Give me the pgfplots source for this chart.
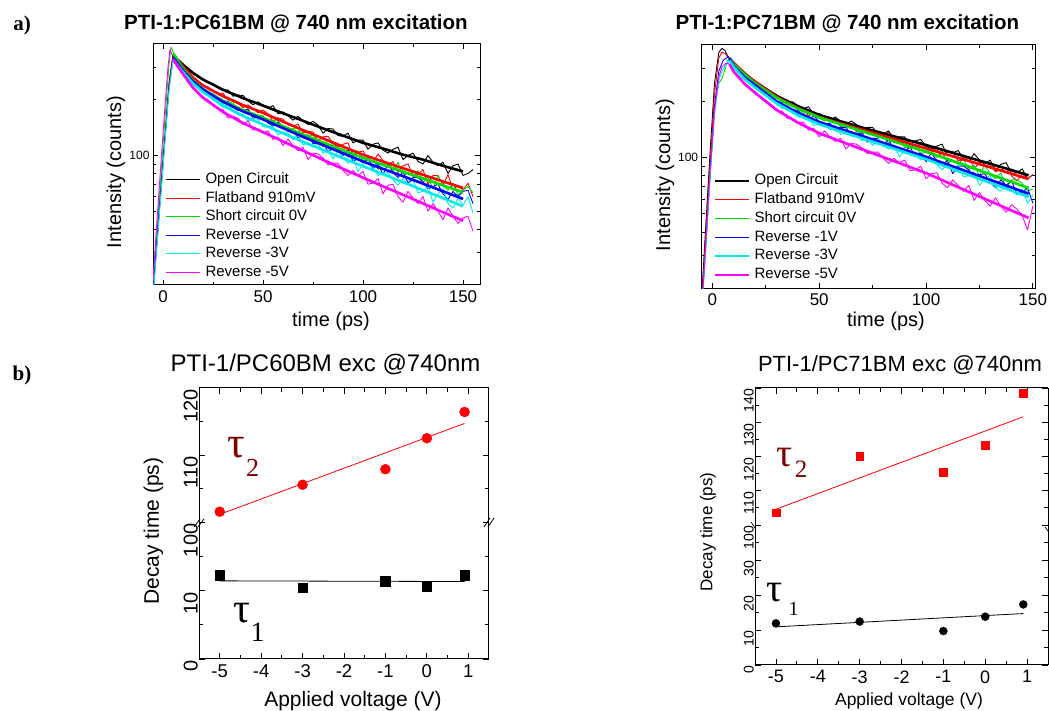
\documentclass[border=0pt]{standalone}
\usepackage{fontspec}
\setmainfont{Liberation Sans}
\newfontfamily\serif{Liberation Serif}
\usepackage{pgfplots}
\pgfplotsset{compat=1.18}
\definecolor{cgreen}{RGB}{0,220,0}
\definecolor{cblue}{RGB}{0,0,255}
\definecolor{ccyan}{RGB}{0,235,235}
\definecolor{cmag}{RGB}{255,0,255}
\definecolor{tauRed}{RGB}{128,0,0}
\tikzset{rawl/.style={line width=0.9pt, line join=round},
         fitl/.style={line width=2.6pt}}
\newcommand{\legtxt}[1]{\hspace{5pt}\fontsize{15}{18}\selectfont #1}
\pgfplotsset{every axis/.append style={scale only axis, anchor=south west,
    axis line style={line width=1pt}, tick style={black, line width=0.8pt}, tick align=inside}}
\begin{document}
\begin{tikzpicture}
\useasboundingbox (0,0) rectangle (1049pt,711pt);

% ---------------- A1 ----------------
\begin{axis}[at={(153pt,426pt)}, width=327pt, height=241pt, xmin=-5, xmax=158.5,
  ymode=log, ymin=20, ymax=400, major tick length=5pt, minor tick length=3pt,
  xtick={0,50,100,150}, xticklabels={0,50,100,150}, minor xtick={25,75,125},
  ytick={100}, yticklabels={100}, minor ytick={30,40,50,60,70,80,90,200,300},
  xticklabel style={font=\fontsize{17}{17}\selectfont, yshift=-2pt},
  yticklabel style={font=\fontsize{12}{12}\selectfont},
  legend style={at={(0.037,0.467)}, anchor=north west, draw=none, fill=none,
    row sep=4pt, inner sep=0pt,
    nodes={inner sep=0pt, text height=11pt, text depth=3.5pt}},
  legend cell align=left,
  legend image code/.code={\draw[#1, line width=1.2pt] (0pt,0pt) -- (34pt,0pt);}]
\addplot[rawl, black] coordinates {(-5,19) (-3,36) (-1,68) (1,128) (3,245) (5,348) (7.5,326) (10,310) (12.5,296) (15,278) (17.5,265) (20,259) (22.5,249) (25,245) (27.5,232) (30,225) (32.5,226) (35,209) (37.5,212) (40,211) (42.5,197) (45,188) (47.5,195) (50,187) (52.5,180) (55,186) (57.5,168) (60,172) (62.5,164) (65,155) (67.5,163) (70,154) (72.5,147) (75,153) (77.5,146) (80,132) (82.5,140) (85,139) (87.5,128) (90,127) (92.5,132) (95,117) (97.5,121) (100,121) (102.5,108) (105,115) (107.5,117) (110,107) (112.5,103) (115,108) (117.5,111) (120,95) (122.5,100) (125,103) (127.5,93) (130,90) (132.5,100) (135,92) (137.5,88) (140,92) (142.5,80) (145,88) (147.5,90) (150,78) (152.5,80) (155,84)};
\addlegendentry{\legtxt{Open Circuit}}
\addplot[rawl, red] coordinates {(-5,18) (-3,34) (-1,66) (1,125) (3,240) (5,352) (7.5,328) (10,299) (12.5,283) (15,266) (17.5,250) (20,236) (22.5,234) (25,224) (27.5,216) (30,217) (32.5,199) (35,201) (37.5,192) (40,181) (42.5,188) (45,179) (47.5,170) (50,176) (52.5,168) (55,153) (57.5,160) (60,157) (62.5,146) (65,144) (67.5,148) (70,132) (72.5,135) (75,134) (77.5,120) (80,126) (82.5,127) (85,116) (87.5,111) (90,115) (92.5,117) (95,100) (97.5,104) (100,106) (102.5,96) (105,92) (107.5,102) (110,94) (112.5,89) (115,93) (117.5,81) (120,88) (122.5,90) (125,78) (127.5,79) (130,84) (132.5,70) (135,78) (137.5,78) (140,69) (142.5,79) (145,65) (147.5,69) (150,65) (152.5,71) (155,60)};
\addlegendentry{\legtxt{Flatband 910mV}}
\addplot[rawl, cgreen] coordinates {(-5,20) (-3,40) (-1,80) (1,160) (3,310) (4,385) (5,365) (7.5,327) (10,296) (12.5,274) (15,251) (17.5,244) (20,229) (22.5,219) (25,216) (27.5,206) (30,189) (32.5,195) (35,192) (37.5,178) (40,175) (42.5,179) (45,163) (47.5,165) (50,164) (52.5,149) (55,154) (57.5,154) (60,142) (62.5,136) (65,140) (67.5,141) (70,124) (72.5,127) (75,129) (77.5,118) (80,112) (82.5,122) (85,113) (87.5,107) (90,111) (92.5,98) (95,105) (97.5,106) (100,93) (102.5,94) (105,98) (107.5,84) (110,91) (112.5,91) (115,82) (117.5,92) (120,77) (122.5,81) (125,77) (127.5,83) (130,71) (132.5,77) (135,66) (137.5,78) (140,69) (142.5,65) (145,71) (147.5,61) (150,65) (152.5,68) (155,63)};
\addlegendentry{\legtxt{Short circuit 0V}}
\addplot[rawl, cblue] coordinates {(-5,18) (-3,35) (-1,66) (1,124) (3,232) (5,336) (7.5,315) (10,290) (12.5,268) (15,251) (17.5,242) (20,225) (22.5,219) (25,213) (27.5,200) (30,197) (32.5,196) (35,182) (37.5,175) (40,176) (42.5,177) (45,159) (47.5,161) (50,162) (52.5,150) (55,144) (57.5,152) (60,142) (62.5,135) (65,137) (67.5,124) (70,129) (72.5,129) (75,116) (77.5,116) (80,119) (82.5,104) (85,110) (87.5,110) (90,100) (92.5,108) (95,93) (97.5,96) (100,91) (102.5,97) (105,85) (107.5,90) (110,79) (112.5,90) (115,81) (117.5,76) (120,82) (122.5,71) (125,76) (127.5,76) (130,72) (132.5,66) (135,68) (137.5,70) (140,62) (142.5,58) (145,64) (147.5,60) (150,64) (152.5,65) (155,55)};
\addlegendentry{\legtxt{Reverse -1V}}
\addplot[rawl, ccyan] coordinates {(-5,17) (-3,33) (-1,63) (1,120) (3,225) (5,326) (7.5,310) (10,281) (12.5,262) (15,247) (17.5,237) (20,217) (22.5,212) (25,206) (27.5,193) (30,181) (32.5,188) (35,176) (37.5,167) (40,167) (42.5,153) (45,158) (47.5,157) (50,143) (52.5,142) (55,144) (57.5,129) (60,134) (62.5,132) (65,122) (67.5,130) (70,114) (72.5,117) (75,111) (77.5,116) (80,103) (82.5,108) (85,96) (87.5,106) (90,97) (92.5,91) (95,97) (97.5,82) (100,90) (102.5,90) (105,85) (107.5,78) (110,80) (112.5,81) (115,74) (117.5,69) (120,75) (122.5,70) (125,74) (127.5,63) (130,64) (132.5,68) (135,56) (137.5,62) (140,66) (142.5,55) (145,52) (147.5,59) (150,54) (152.5,60) (155,49)};
\addlegendentry{\legtxt{Reverse -3V}}
\addplot[rawl, cmag] coordinates {(-5,21) (-3,45) (-1,92) (1,185) (2.5,300) (3.5,375) (5,340) (7.5,306) (10,275) (12.5,252) (15,234) (17.5,215) (20,207) (22.5,200) (25,186) (27.5,179) (30,177) (32.5,159) (35,163) (37.5,159) (40,147) (42.5,154) (45,137) (47.5,139) (50,132) (52.5,136) (55,122) (57.5,126) (60,113) (62.5,123) (65,113) (67.5,106) (70,111) (72.5,95) (75,103) (77.5,102) (80,97) (82.5,89) (85,91) (87.5,91) (90,83) (92.5,78) (95,83) (97.5,78) (100,82) (102.5,70) (105,71) (107.5,75) (110,62) (112.5,69) (115,70) (117.5,60) (120,56) (122.5,64) (125,59) (127.5,55) (130,60) (132.5,50) (135,55) (137.5,50) (140,45) (142.5,52) (145,47) (147.5,43) (150,46) (152.5,47) (155,39)};
\addlegendentry{\legtxt{Reverse -5V}}
\addplot[fitl, black, forget plot] coordinates {(5,347) (10,309) (15,279) (20,257) (30,226.5) (40,204) (50,186) (60,169) (70,154) (80,140) (90,128) (100,117) (110,109) (120,101) (130,95) (140,88) (150,82)};
\addplot[fitl, red, forget plot] coordinates {(5,350) (10,302) (15,263) (20,239) (30,209) (40,187) (50,170) (60,152.4) (70,137) (80,123.6) (90,111.7) (100,101) (110,92.7) (120,85.3) (130,78.7) (140,72.4) (150,66.8)};
\addplot[fitl, cgreen, forget plot] coordinates {(5,355) (10,295) (15,254) (20,229) (30,197.2) (40,175.8) (50,160) (60,143.9) (70,129.7) (80,117.5) (90,106.7) (100,97.1) (110,89.1) (120,81.8) (130,75.2) (140,69) (150,63.4)};
\addplot[fitl, cblue, forget plot] coordinates {(5,339) (10,288) (15,251) (20,227) (30,195) (40,173) (50,156.7) (60,140.6) (70,126.2) (80,113.8) (90,102.8) (100,92.9) (110,84.7) (120,77.3) (130,70.5) (140,64.1) (150,58.3)};
\addplot[fitl, ccyan, forget plot] coordinates {(5,331) (10,282) (15,245) (20,220) (30,186.2) (40,163.3) (50,146.9) (60,131.8) (70,118.6) (80,107.2) (90,96.8) (100,87.5) (110,79.3) (120,71.8) (130,65) (140,58.9) (150,53.2)};
\addplot[fitl, cmag, forget plot] coordinates {(5,331) (10,275) (15,232) (20,205) (30,171.8) (40,149.6) (50,133.7) (60,119.1) (70,106.2) (80,94.8) (90,84.7) (100,75.9) (110,68.2) (120,61.4) (130,55.1) (140,49.4) (150,44.5)};
\end{axis}

% ---------------- A2 ----------------
\begin{axis}[at={(701.7pt,422.7pt)}, width=333.3pt, height=243.3pt, xmin=-5, xmax=151,
  ymode=log, ymin=20, ymax=400, major tick length=5pt, minor tick length=3pt,
  xtick={0,50,100,150}, xticklabels={0,50,100,150}, minor xtick={25,75,125},
  ytick={100}, yticklabels={100}, minor ytick={30,40,50,60,70,80,90,200,300},
  xticklabel style={font=\fontsize{17}{17}\selectfont, yshift=-2pt},
  yticklabel style={font=\fontsize{12}{12}\selectfont},
  legend style={at={(0.037,0.472)}, anchor=north west, draw=none, fill=none,
    row sep=4.3pt, inner sep=0pt,
    nodes={inner sep=0pt, text height=11pt, text depth=3.5pt}},
  legend cell align=left,
  legend image code/.code={\draw[#1, line width=1.4pt] (0pt,0pt) -- (34pt,0pt);}]
\addplot[rawl, black] coordinates {(-5,18) (-3,45) (-1,110) (1,250) (3,365) (4.5,384) (6,372) (7.5,341) (10,321) (12.5,301) (15,285) (17.5,266) (20,254) (22.5,246) (25,231) (27.5,225) (30,217) (32.5,204) (35,198) (37.5,199) (40,189) (42.5,182) (45,187) (47.5,169) (50,172) (52.5,165) (55,157) (57.5,165) (60,156) (62.5,150) (65,157) (67.5,150) (70,137) (72.5,145) (75,145) (77.5,134) (80,134) (82.5,139) (85,125) (87.5,129) (90,129) (92.5,116) (95,123) (97.5,125) (100,115) (102.5,111) (105,115) (107.5,118) (110,102) (112.5,106) (115,109) (117.5,99) (120,95) (122.5,105) (125,97) (127.5,92) (130,97) (132.5,85) (135,92) (137.5,94) (140,82) (142.5,83) (145,87) (147.5,77) (150,81)};
\addlegendentry{\legtxt{Open Circuit}}
\addplot[rawl, red] coordinates {(-5,17) (-3,40) (-1,95) (1,220) (3,340) (4.5,366) (6,360) (7.5,341) (10,317) (12.5,303) (15,282) (17.5,267) (20,258) (22.5,241) (25,234) (27.5,222) (30,208) (32.5,210) (35,198) (37.5,187) (40,190) (42.5,181) (45,167) (47.5,173) (50,170) (52.5,159) (55,158) (57.5,162) (60,147) (62.5,151) (65,151) (67.5,137) (70,143) (72.5,144) (75,134) (77.5,129) (80,134) (82.5,136) (85,120) (87.5,123) (90,126) (92.5,116) (95,111) (97.5,121) (100,113) (102.5,108) (105,112) (107.5,100) (110,107) (112.5,108) (115,96) (117.5,97) (120,101) (122.5,87) (125,94) (127.5,95) (130,91) (132.5,84) (135,86) (137.5,88) (140,80) (142.5,75) (145,82) (147.5,77) (150,81)};
\addlegendentry{\legtxt{Flatband 910mV}}
\addplot[rawl, cgreen] coordinates {(-5,16) (-3,35) (-1,85) (1,180) (3,250) (4.5,265) (6,300) (7.5,338) (10,316) (12.5,295) (15,282) (17.5,265) (20,246) (22.5,241) (25,232) (27.5,218) (30,208) (32.5,209) (35,191) (37.5,190) (40,187) (42.5,171) (45,180) (47.5,175) (50,162) (52.5,157) (55,160) (57.5,162) (60,145) (62.5,148) (65,150) (67.5,139) (70,133) (72.5,143) (75,134) (77.5,128) (80,131) (82.5,119) (85,125) (87.5,126) (90,113) (92.5,114) (95,117) (97.5,103) (100,110) (102.5,109) (105,100) (107.5,109) (110,93) (112.5,97) (115,92) (117.5,98) (120,86) (122.5,91) (125,80) (127.5,91) (130,82) (132.5,77) (135,83) (137.5,68) (140,76) (142.5,76) (145,73) (147.5,66) (150,68)};
\addlegendentry{\legtxt{Short circuit 0V}}
\addplot[rawl, cblue] coordinates {(-5,16) (-3,36) (-1,85) (1,190) (3,290) (5,330) (7.5,348) (10,307) (12.5,289) (15,271) (17.5,253) (20,245) (22.5,236) (25,221) (27.5,209) (30,201) (32.5,197) (35,181) (37.5,180) (40,179) (42.5,166) (45,159) (47.5,167) (50,156) (52.5,150) (55,153) (57.5,139) (60,145) (62.5,145) (65,132) (67.5,133) (70,136) (72.5,121) (75,127) (77.5,126) (80,117) (82.5,125) (85,110) (87.5,113) (90,108) (92.5,114) (95,101) (97.5,106) (100,95) (102.5,106) (105,96) (107.5,91) (110,97) (112.5,82) (115,90) (117.5,90) (120,86) (122.5,79) (125,81) (127.5,82) (130,74) (132.5,69) (135,76) (137.5,71) (140,75) (142.5,64) (145,65) (147.5,69) (150,57)};
\addlegendentry{\legtxt{Reverse -1V}}
\addplot[rawl, ccyan] coordinates {(-5,15) (-3,34) (-1,80) (1,170) (3,260) (4.5,290) (6,310) (7.5,330) (10,303) (12.5,284) (15,265) (17.5,248) (20,234) (22.5,230) (25,217) (27.5,205) (30,199) (32.5,183) (35,185) (37.5,182) (40,165) (42.5,163) (45,165) (47.5,148) (50,153) (52.5,152) (55,141) (57.5,149) (60,133) (62.5,136) (65,130) (67.5,136) (70,123) (72.5,127) (75,116) (77.5,126) (80,116) (82.5,111) (85,117) (87.5,101) (90,109) (92.5,108) (95,104) (97.5,97) (100,99) (102.5,100) (105,92) (107.5,86) (110,92) (112.5,87) (115,91) (117.5,79) (120,80) (122.5,84) (125,71) (127.5,77) (130,80) (132.5,69) (135,66) (137.5,72) (140,68) (142.5,63) (145,68) (147.5,57) (150,63)};
\addlegendentry{\legtxt{Reverse -3V}}
\addplot[rawl, cmag] coordinates {(-5,15) (-3,36) (-1,85) (1,180) (3,270) (4.5,305) (6,318) (7.5,319) (10,290) (12.5,271) (15,246) (17.5,234) (20,225) (22.5,208) (25,202) (27.5,192) (30,178) (32.5,178) (35,162) (37.5,161) (40,152) (42.5,155) (45,140) (47.5,143) (50,129) (52.5,139) (55,129) (57.5,122) (60,127) (62.5,111) (65,119) (67.5,118) (70,113) (72.5,105) (75,107) (77.5,107) (80,99) (82.5,93) (85,99) (87.5,94) (90,97) (92.5,85) (95,86) (97.5,90) (100,77) (102.5,82) (105,83) (107.5,73) (110,69) (112.5,76) (115,71) (117.5,66) (120,71) (122.5,59) (125,65) (127.5,59) (130,55) (132.5,61) (135,55) (137.5,51) (140,56) (142.5,53) (145,49) (147.5,41) (150,55)};
\addlegendentry{\legtxt{Reverse -5V}}
\addplot[fitl, black, forget plot] coordinates {(8,339) (10,320) (15,282) (20,254) (30,213.8) (40,188.4) (50,169) (60,156.3) (70,144.9) (80,134.6) (90,125.3) (100,116.7) (110,108.1) (120,100) (130,92.7) (140,85.7) (148,80.4)};
\addplot[fitl, red, forget plot] coordinates {(8,339) (10,320) (15,282) (20,254) (30,211.3) (40,184.1) (50,164.8) (60,152.4) (70,140.9) (80,130.6) (90,120.8) (100,111.9) (110,103.5) (120,95.9) (130,88.7) (140,82) (148,76.7)};
\addplot[fitl, cgreen, forget plot] coordinates {(8,339) (10,316) (15,278.6) (20,250) (30,208.9) (40,182.8) (50,164.1) (60,150.7) (70,138.4) (80,127.4) (90,117) (100,107.6) (110,98.2) (120,89.5) (130,81.5) (140,74.1) (148,68.7)};
\addplot[fitl, cblue, forget plot] coordinates {(8,339) (10,309) (15,269) (20,243.8) (30,199.5) (40,173.8) (50,154.9) (60,142.2) (70,130.6) (80,119.7) (90,109.9) (100,100.9) (110,91.8) (120,83.6) (130,76) (140,69.2) (148,64.1)};
\addplot[fitl, ccyan, forget plot] coordinates {(8,331) (10,305.5) (15,263) (20,237) (30,195) (40,169) (50,150.7) (60,138) (70,126.8) (80,116.4) (90,106.7) (100,98) (110,88.9) (120,80.7) (130,73.3) (140,66.5) (148,61.7)};
\addplot[fitl, cmag, forget plot] coordinates {(8,316) (10,288) (15,248) (20,222) (30,179.9) (40,153.8) (50,134.9) (60,122.2) (70,110.7) (80,100.5) (90,91.2) (100,82.6) (110,73.6) (120,65.6) (130,58.5) (140,52.1) (148,47.6)};
\end{axis}

% ---------------- B1 ----------------
\begin{axis}[at={(199pt,52pt)}, width=290pt, height=136.5pt, xmin=-5.5, xmax=1.5, ymin=0, ymax=20,
  axis x line*=bottom, axis y line*=box, clip=false, major tick length=6pt, minor tick length=4pt,
  xtick={-5,-4,-3,-2,-1,0,1}, xticklabels={-5,-4,-3,-2,-1,0,1}, minor x tick num=1,
  xticklabel style={font=\fontsize{18.5}{18.5}\selectfont, yshift=-2pt},
  ytick={0,10,20}, yticklabels={0,10,{}}, minor ytick={5,15},
  yticklabel style={rotate=90, anchor=south east, inner sep=1pt, font=\fontsize{20}{20}\selectfont}]
\addplot[black, line width=0.8pt] coordinates {(-5,11.45) (0.91,11.35)};
\addplot[black, only marks, mark=square*, mark size=4.75pt] coordinates {(-5,12.25) (-3,10.45) (-1,11.4) (0,10.6) (0.91,12.3)};
\end{axis}
\begin{axis}[at={(199pt,188.5pt)}, width=290pt, height=134.8pt, xmin=-5.5, xmax=1.5, ymin=100, ymax=120,
  axis x line*=top, axis y line*=box, clip=false, major tick length=6pt, minor tick length=4pt,
  xtick={-5,-4,-3,-2,-1,0,1}, xticklabels={}, minor x tick num=1,
  ytick={100,110,120}, yticklabels={100,110,120}, minor ytick={105,115},
  yticklabel style={rotate=90, anchor=south east, inner sep=1pt, font=\fontsize{20}{20}\selectfont}]
\addplot[red, line width=0.8pt] coordinates {(-5,101.2) (0.91,114.7)};
\addplot[red, only marks, mark=*, mark size=5pt] coordinates {(-5,101.6) (-3,105.6) (-1,107.9) (0,112.5) (0.91,116.4)};
\end{axis}

% ---------------- B2 ----------------
\begin{axis}[at={(755pt,46pt)}, width=293pt, height=140pt, xmin=-5.5, xmax=1.5, ymin=0, ymax=40,
  axis x line*=bottom, axis y line*=box, clip=false, major tick length=6pt, minor tick length=4pt,
  xtick={-5,-4,-3,-2,-1,0,1}, xticklabels={-5,-4,-3,-2,-1,0,1}, minor x tick num=1,
  xticklabel style={font=\fontsize{18}{18}\selectfont, yshift=-2pt},
  ytick={0,10,20,30,40}, yticklabels={0,10,20,30,{}}, minor ytick={5,15,25,35},
  yticklabel style={rotate=90, anchor=south east, inner sep=1pt, font=\fontsize{14}{14}\selectfont}]
\addplot[black, line width=0.8pt] coordinates {(-5,10.9) (0.91,14.7)};
\addplot[black, only marks, mark=*, mark size=4pt] coordinates {(-5,11.9) (-3,12.4) (-1,9.7) (0,13.8) (0.91,17.3)};
\end{axis}
\begin{axis}[at={(755pt,186pt)}, width=293pt, height=137pt, xmin=-5.5, xmax=1.5, ymin=100, ymax=140,
  axis x line*=top, axis y line*=box, clip=false, major tick length=6pt, minor tick length=4pt,
  xtick={-5,-4,-3,-2,-1,0,1}, xticklabels={}, minor x tick num=1,
  ytick={100,110,120,130,140}, yticklabels={100,110,120,130,140}, minor ytick={105,115,125,135},
  yticklabel style={rotate=90, anchor=south east, inner sep=1pt, font=\fontsize{14}{14}\selectfont}]
\addplot[red, line width=0.8pt] coordinates {(-5,104.6) (0.91,131.6)};
\addplot[red, only marks, mark=square*, mark size=3.85pt] coordinates {(-5,103.6) (-3,120.1) (-1,115.5) (0,123.2) (0.91,138.4)};
\end{axis}

% break marks
\draw[line width=0.8pt] (194pt,184pt) -- (200pt,192pt) (198pt,184pt) -- (204pt,192pt);
\draw[line width=0.8pt] (484pt,184pt) -- (490pt,193pt) (488pt,184pt) -- (494pt,193pt);
\draw[line width=0.7pt] (751pt,189pt) -- (755pt,183pt);
\draw[line width=0.7pt] (1045pt,184pt) -- (1048pt,180pt);

% texts
\node[font=\serif\bfseries\fontsize{21}{21}\selectfont] at (22pt,686pt) {a)};
\node[font=\serif\bfseries\fontsize{21}{21}\selectfont] at (22pt,336pt) {b)};
\node[font=\bfseries\fontsize{20.5}{20.5}\selectfont] at (296pt,687pt) {PTI-1:PC61BM @ 740 nm excitation};
\node[font=\bfseries\fontsize{20.5}{20.5}\selectfont] at (847.5pt,687pt) {PTI-1:PC71BM @ 740 nm excitation};
\node[rotate=90, font=\fontsize{20}{20}\selectfont] at (116pt,539pt) {Intensity (counts)};
\node[rotate=90, font=\fontsize{20}{20}\selectfont] at (665pt,536pt) {Intensity (counts)};
\node[font=\fontsize{20}{20}\selectfont] at (331pt,390pt) {time (ps)};
\node[font=\fontsize{20}{20}\selectfont] at (886pt,390pt) {time (ps)};
\node[font=\fontsize{24}{24}\selectfont] at (325.5pt,347pt) {PTI-1/PC60BM exc @740nm};
\node[font=\fontsize{22}{22}\selectfont] at (900pt,346pt) {PTI-1/PC71BM exc @740nm};
\node[rotate=90, font=\fontsize{21}{21}\selectfont] at (153.5pt,180pt) {Decay time (ps)};
\node[rotate=90, font=\fontsize{17}{17}\selectfont] at (708pt,179pt) {Decay time (ps)};
\node[font=\fontsize{21}{21}\selectfont] at (353pt,10pt) {Applied voltage (V)};
\node[font=\fontsize{17.5}{17.5}\selectfont] at (909pt,10pt) {Applied voltage (V)};
% tau labels
\node[text=tauRed, font=\serif\fontsize{44}{44}\selectfont] at (236.7pt,263.5pt) {τ};
\node[text=tauRed, font=\serif\fontsize{26}{26}\selectfont] at (252.5pt,242.7pt) {2};
\node[font=\serif\fontsize{42}{42}\selectfont] at (241.5pt,98pt) {τ};
\node[font=\serif\fontsize{28}{28}\selectfont] at (257.5pt,78.5pt) {1};
\node[text=tauRed, font=\serif\fontsize{40}{40}\selectfont] at (785pt,253pt) {τ};
\node[text=tauRed, font=\serif\fontsize{25}{25}\selectfont, inner sep=0pt] at (801pt,242pt) {2};
\node[font=\serif\fontsize{40}{40}\selectfont] at (775pt,118pt) {τ};
\node[font=\serif\fontsize{20}{20}\selectfont] at (793.5pt,102.5pt) {1};
\end{tikzpicture}
\end{document}
